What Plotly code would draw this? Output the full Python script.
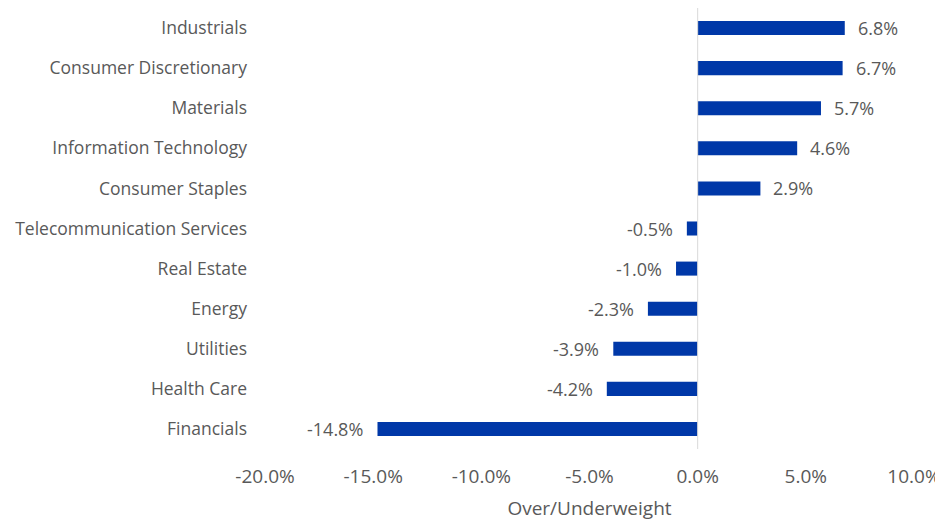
import plotly.graph_objects as go

categories = ["Industrials", "Consumer Discretionary", "Materials", "Information Technology",
              "Consumer Staples", "Telecommunication Services", "Real Estate", "Energy",
              "Utilities", "Health Care", "Financials"]
values = [6.8, 6.7, 5.7, 4.6, 2.9, -0.5, -1.0, -2.3, -3.9, -4.2, -14.8]
tick_vals = [-20, -15, -10, -5, 0, 5, 10]
tick_text = ["-20.0%", "-15.0%", "-10.0%", "-5.0%", "0.0%", "5.0%", "10.0%"]

FONT = "Open Sans"
GRAY = "#595959"
BLUE = "#0038A8"

fig = go.Figure()
fig.add_trace(go.Bar(
    y=categories, x=values, orientation="h",
    marker=dict(color=BLUE, line=dict(width=0)),
    width=0.35, hoverinfo="skip",
))

for c, v in zip(categories, values):
    fig.add_annotation(
        x=v, y=c, text=f"{v:.1f}%", showarrow=False,
        xanchor="left" if v >= 0 else "right",
        xshift=11 if v >= 0 else -12,
        font=dict(family=FONT, size=18, color=GRAY),
    )

fig.update_layout(
    width=935, height=514,
    margin=dict(l=257, r=29, t=0, b=73, autoexpand=False),
    paper_bgcolor="white", plot_bgcolor="white",
    showlegend=False,
    font=dict(family=FONT, size=15, color=GRAY),
    xaxis=dict(
        range=[-20, 10], tickvals=tick_vals, ticktext=tick_text,
        showgrid=False, zeroline=False, showline=False, ticks="",
        automargin=False, ticklabelstandoff=14,
        tickfont=dict(family=FONT, size=19, color=GRAY),
        title=dict(text="Over/Underweight", font=dict(family=FONT, size=19, color=GRAY), standoff=13),
    ),
    yaxis=dict(
        autorange="reversed", showgrid=False, zeroline=False, automargin=False,
        showline=False, ticks="", ticklabelstandoff=17,
        tickfont=dict(family=FONT, size=17.5, color=GRAY),
    ),
    shapes=[dict(type="line", xref="x", yref="paper", x0=0, x1=0, y0=0, y1=1,
                 line=dict(color="#D9D9D9", width=1))],
)

fig.write_html("out.html")
